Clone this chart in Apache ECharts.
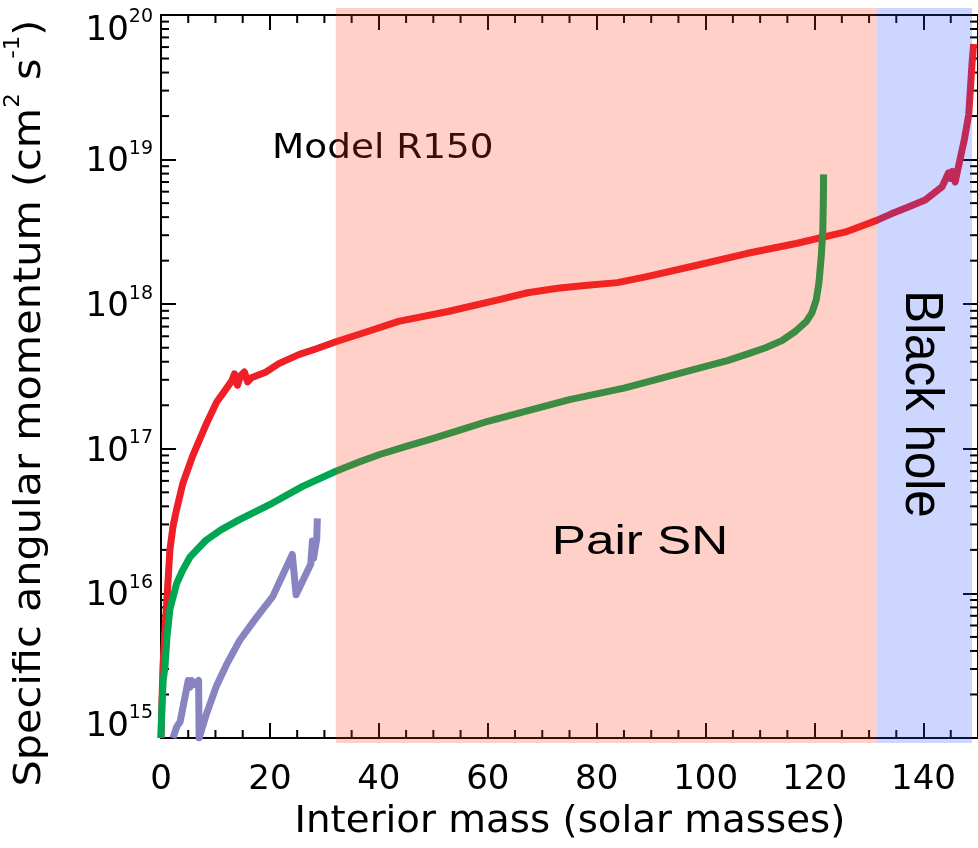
<!DOCTYPE html>
<html>
<head>
<meta charset="utf-8">
<script src="https://cdn.jsdelivr.net/npm/echarts@6/dist/echarts.min.js"></script>
<style>
  html, body { margin: 0; padding: 0; background: #fff; }
  #chart { width: 978px; height: 848px; }
</style>
</head>
<body>
<div id="chart"></div>
<script>
// Specific angular momentum profiles (cm^2 s^-1) against interior mass (solar masses)
const redMass = [0, 0.1, 0.18, 0.36, 0.73, 1.1, 1.64, 2.2, 2.86, 4.0, 5.8, 8.4, 10.2, 13.0, 13.5, 14.05, 14.6, 15.3,
  15.9, 16.6, 19.3, 21.7, 25.4, 28.4, 32.1, 38.1, 43.6, 52.7, 61.9, 67.3, 72.8, 78.3, 83.8, 89.2, 98.4, 107.5, 116.6,
  125.7, 131.4, 134, 137.2, 140.3, 142, 143.4, 144.6, 145.0, 145.3, 145.8, 147.5, 148.3, 148.9, 149.2];
const redJ = [1.0e15, 1.0e15, 1.8e15, 3.1e15, 5.6e15, 9.3e15, 2.0e16, 2.9e16, 3.8e16, 5.75e16, 8.9e16, 1.51e17, 2.1e17,
  2.95e17, 3.3e17, 2.75e17, 3.2e17, 3.4e17, 2.9e17, 3.1e17, 3.4e17, 3.9e17, 4.5e17, 4.9e17, 5.5e17, 6.5e17, 7.6e17,
  8.9e17, 1.07e18, 1.2e18, 1.29e18, 1.35e18, 1.41e18, 1.55e18, 1.86e18, 2.24e18, 2.63e18, 3.16e18, 3.8e18,
  4.2e18, 4.7e18, 5.25e18, 5.9e18, 6.5e18, 8.1e18, 7.4e18, 8.3e18, 7.0e18, 1.38e19, 2.05e19, 4.6e19, 6.3e19];

const greenMass = [0, 0.15, 0.4, 0.73, 1.1, 1.64, 2.87, 4.0, 5.3, 8.3, 11, 14.4, 20.4, 26, 32.1, 36, 40, 45, 50, 55,
  60, 65, 70, 75, 80, 85, 90, 95, 100, 104, 108, 111, 114, 116.5, 118.5, 119.5, 120.3, 120.8, 121.2, 121.5, 121.6,
  121.65];
const greenJ = [1.0e15, 1.6e15, 2.5e15, 3.1e15, 5.0e15, 7.8e15, 1.17e16, 1.45e16, 1.78e16, 2.34e16, 2.75e16, 3.24e16,
  4.2e16, 5.5e16, 7.0e16, 8.0e16, 9.1e16, 1.04e17, 1.18e17, 1.35e17, 1.55e17, 1.74e17, 1.95e17, 2.19e17, 2.4e17,
  2.63e17, 2.95e17, 3.31e17, 3.72e17, 4.07e17, 4.57e17, 5.0e17, 5.6e17, 6.5e17, 7.6e17, 8.7e17, 1.07e18, 1.41e18,
  2.09e18, 3.16e18, 5.0e18, 7.9e18];

const purpleMass = [2.2, 2.9, 3.5, 5.0, 5.3, 5.6, 6.2, 6.9, 7.0, 8.3, 10.2, 12.0, 14.4, 17.5, 20.5, 24.1, 24.8, 27.5,
  27.8, 28.0, 28.6, 28.7];
const purpleJ = [1.0e15, 1.2e15, 1.29e15, 2.5e15, 2.24e15, 2.5e15, 2.35e15, 2.5e15, 1.0e15, 1.45e15, 2.3e15, 3.2e15,
  4.7e15, 6.8e15, 9.5e15, 1.86e16, 9.8e15, 1.6e16, 2.3e16, 1.74e16, 2.4e16, 3.3e16];

const massTicks = [0, 20, 40, 60, 80, 100, 120, 140];
const massMinorTicks = [5, 10, 15, 25, 30, 35, 45, 50, 55, 65, 70, 75, 85, 90, 95, 105, 110, 115, 125, 130, 135, 145];
const jMinorTicks = [];
for (let e = 15; e < 20; e++) {
  for (let k = 2; k <= 9; k++) jMinorTicks.push(k * Math.pow(10, e));
}

// Mass ranges of the two fates
const pairSnRange = [32.1, 131.4];
const blackHoleRange = [131.4, 148.9];

const FONT = 'DejaVu Sans';
const HELV = 'Liberation Sans';
const BLACK = '#000';

const pairs = (xs, ys) => xs.map((x, i) => [x, ys[i]]);

const baseX = {
  type: 'value', min: 0, max: 150, interval: 20,
  axisLine: { onZero: false, lineStyle: { color: BLACK, width: 2 } },
  axisTick: { inside: true, length: 15, lineStyle: { color: BLACK, width: 2 } },
  splitLine: { show: false }
};
const baseY = {
  type: 'log', logBase: 10, min: 1e15, max: 1e20,
  axisLine: { onZero: false, lineStyle: { color: BLACK, width: 2 } },
  axisTick: { inside: true, length: 15, lineStyle: { color: BLACK, width: 2 } },
  splitLine: { show: false }
};

const bTok = (pad) => ({ fontSize: 34, fontFamily: FONT, color: BLACK, padding: pad, verticalAlign: 'bottom' });
const sTok = (pad) => ({ fontSize: 19, fontFamily: FONT, color: BLACK, padding: pad, verticalAlign: 'top' });

const lineSeries = (name, xs, ys, color) => ({
  name, type: 'line', xAxisIndex: 0, yAxisIndex: 0,
  data: pairs(xs, ys), showSymbol: false, symbol: 'none', z: 2,
  lineStyle: { color, width: 7, join: 'round' }
});

const option = {
  animation: false,
  backgroundColor: '#fff',
  grid: { left: 161, top: 15, width: 822, height: 723 },
  xAxis: [
    Object.assign({}, baseX, {
      position: 'bottom',
      axisLabel: {
        margin: 25, fontSize: 34, fontFamily: FONT, color: BLACK, showMaxLabel: false,
        formatter: (v) => (massTicks.indexOf(v) >= 0 ? String(v) : '')
      }
    }),
    Object.assign({}, baseX, { position: 'top', axisLabel: { show: false } })
  ],
  yAxis: [
    Object.assign({}, baseY, {
      position: 'left',
      axisLabel: {
        margin: 8,
        formatter: (v) => {
          const e = Math.round(Math.log10(v));
          const k = e === 20 ? 'T' : (e === 15 ? 'B' : 'M');
          return '{b' + k + '|10}{s' + k + '|' + e + '}';
        },
        rich: {
          bM: bTok([6, 0, 0, 0]), sM: sTok([0, 0, 0, 0]),
          bT: bTok([32, 0, 0, 0]), sT: sTok([26, 0, 0, 0]),
          bB: bTok([6, 0, 28, 0]), sB: sTok([0, 0, 0, 0])
        }
      }
    }),
    Object.assign({}, baseY, { position: 'right', axisLabel: { show: false } })
  ],
  graphic: [
    {
      type: 'text', x: 26, y: 403, rotation: Math.PI / 2, scaleX: 1.09, z: 1,
      style: {
        text: '{t|Specific angular momentum (cm}{u|2}{t| s}{u|-1}{t|)}',
        align: 'center', verticalAlign: 'middle',
        rich: {
          t: { fontSize: 38, fontFamily: FONT, fill: BLACK, verticalAlign: 'bottom', padding: [8, 0, 0, 0] },
          u: { fontSize: 21, fontFamily: FONT, fill: BLACK, verticalAlign: 'top' }
        }
      }
    },
    {
      type: 'text', x: 570, y: 822, z: 1, scaleX: 1.02,
      style: { text: 'Interior mass (solar masses)', fontSize: 38, fontFamily: FONT, fill: BLACK,
        align: 'center', verticalAlign: 'middle' }
    },
    {
      type: 'text', x: 272, y: 149, z: 3, scaleX: 1.1,
      style: { text: 'Model R150', fontSize: 34, fontFamily: FONT, fill: BLACK, align: 'left', verticalAlign: 'middle' }
    },
    {
      type: 'text', x: 640, y: 543, z: 10, scaleX: 1.28,
      style: { text: 'Pair SN', fontSize: 40, fontFamily: HELV, fill: BLACK, align: 'center', verticalAlign: 'middle' }
    },
    {
      type: 'text', x: 921, y: 404, z: 10, rotation: -Math.PI / 2, scaleX: 0.93,
      style: { text: 'Black hole', fontSize: 53, fontFamily: HELV, fill: BLACK, align: 'center', verticalAlign: 'middle' }
    }
  ],
  series: [
    lineSeries('R150 specific angular momentum', redMass, redJ, '#ee1f26'),
    lineSeries('Innermost stable orbit', greenMass, greenJ, '#00a651'),
    lineSeries('Core', purpleMass, purpleJ, '#8884c2'),
    {
      // minor ticks along the bottom and top mass axes
      type: 'custom', coordinateSystem: 'cartesian2d', xAxisIndex: 0, yAxisIndex: 0,
      silent: true, clip: false, z: 2,
      data: massMinorTicks.map((v) => [v]),
      encode: { x: 0 },
      renderItem: (params, api) => {
        const cs = params.coordSys;
        const px = api.coord([api.value(0), 1e15])[0];
        const st = { stroke: BLACK, lineWidth: 2 };
        return {
          type: 'group', children: [
            { type: 'line', shape: { x1: px, y1: cs.y + cs.height, x2: px, y2: cs.y + cs.height - 8 }, style: st },
            { type: 'line', shape: { x1: px, y1: cs.y, x2: px, y2: cs.y + 8 }, style: st }
          ]
        };
      }
    },
    {
      // minor ticks along the left and right log axes
      type: 'custom', coordinateSystem: 'cartesian2d', xAxisIndex: 0, yAxisIndex: 0,
      silent: true, clip: false, z: 2,
      data: jMinorTicks.map((v) => [v]),
      encode: { y: 0 },
      renderItem: (params, api) => {
        const cs = params.coordSys;
        const py = api.coord([0, api.value(0)])[1];
        const st = { stroke: BLACK, lineWidth: 2 };
        return {
          type: 'group', children: [
            { type: 'line', shape: { x1: cs.x, y1: py, x2: cs.x + 8, y2: py }, style: st },
            { type: 'line', shape: { x1: cs.x + cs.width, y1: py, x2: cs.x + cs.width - 8, y2: py }, style: st }
          ]
        };
      }
    },
    {
      // translucent bands for the pair-instability and black-hole mass ranges
      type: 'custom', coordinateSystem: 'cartesian2d', xAxisIndex: 0, yAxisIndex: 0,
      silent: true, clip: false, z: 5,
      data: [[pairSnRange[0], pairSnRange[1], 0], [blackHoleRange[0], blackHoleRange[1], 1]],
      encode: { x: [0, 1] },
      renderItem: (params, api) => {
        const cs = params.coordSys;
        const x0 = api.coord([api.value(0), 1e15])[0];
        const x1 = api.coord([api.value(1), 1e15])[0];
        const fills = ['rgba(255,55,21,0.235)', 'rgba(38,81,255,0.235)'];
        return {
          type: 'rect',
          shape: { x: x0, y: cs.y - 7, width: x1 - x0, height: cs.height + 12 },
          style: { fill: fills[api.value(2)] }
        };
      }
    }
  ]
};

const chart = echarts.init(document.getElementById('chart'), null, { renderer: 'canvas' });
chart.setOption(option);
</script>
</body>
</html>
